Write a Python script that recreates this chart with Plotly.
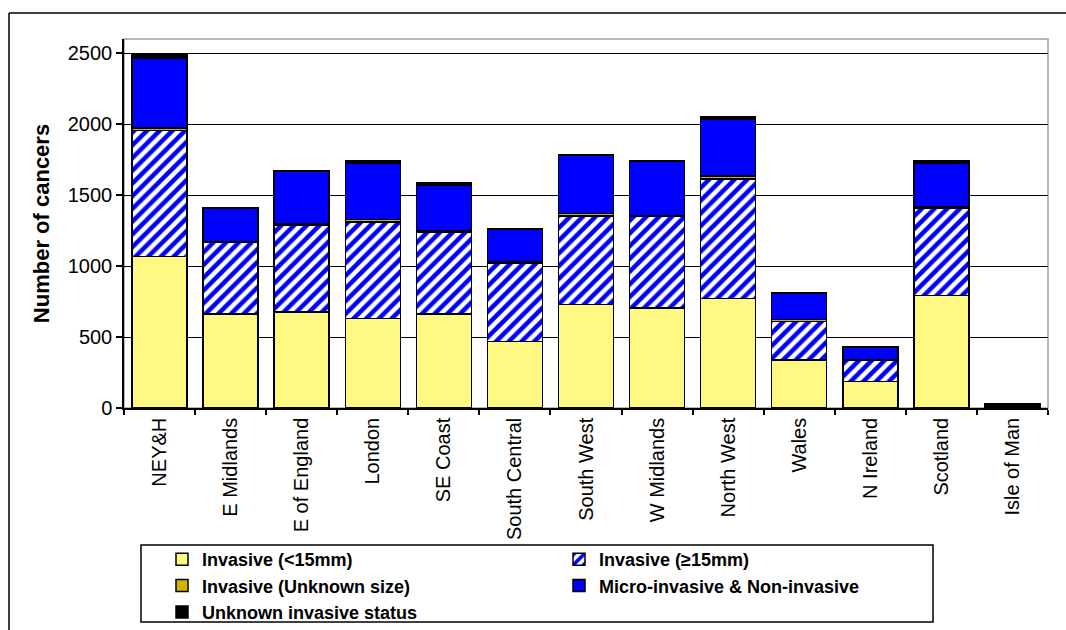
import plotly.graph_objects as go

# Screening regions along the x axis
regions = ["NEY&H", "E Midlands", "E of England", "London", "SE Coast",
           "South Central", "South West", "W Midlands", "North West",
           "Wales", "N Ireland", "Scotland", "Isle of Man"]

# Number of cancers in each category, per region
invasive_small = [1068, 664, 678, 629, 664, 469, 730, 704, 770, 340, 188, 793, 12]
invasive_large = [887, 506, 613, 681, 575, 550, 624, 645, 843, 270, 150, 615, 10]
invasive_unknown_size = [17, 4, 8, 18, 8, 10, 18, 8, 22, 12, 4, 12, 1]
micro_non_invasive = [493, 231, 367, 398, 321, 230, 410, 382, 403, 184, 88, 305, 8]
unknown_status = [21, 4, 5, 19, 21, 4, 4, 5, 16, 4, 4, 19, 2]

series_names = ["Invasive (<15mm)", "Invasive (\u226515mm)", "Invasive (Unknown size)",
                "Micro-invasive & Non-invasive", "Unknown invasive status"]

FONT = "Liberation Sans, Arial, sans-serif"
outline = dict(color="black", width=1.5)

fig = go.Figure()
fig.add_trace(go.Bar(x=regions, y=invasive_small, name=series_names[0],
                     marker=dict(color="#FFF984", line=outline)))
fig.add_trace(go.Bar(x=regions, y=invasive_large, name=series_names[1],
                     marker=dict(color="white", line=outline,
                                 pattern=dict(shape="/", fgcolor="#0000FF", bgcolor="white",
                                              size=9, solidity=0.5, fillmode="replace"))))
fig.add_trace(go.Bar(x=regions, y=invasive_unknown_size, name=series_names[2],
                     marker=dict(color="#D2B400", line=outline)))
fig.add_trace(go.Bar(x=regions, y=micro_non_invasive, name=series_names[3],
                     marker=dict(color="#0000FF", line=outline)))
fig.add_trace(go.Bar(x=regions, y=unknown_status, name=series_names[4],
                     marker=dict(color="black", line=outline)))

W, H = 1066, 630
L, R, T, B = 124, 18, 39, 222
pw, ph = W - L - R, H - T - B


def px_x(x):
    return (x - L) / pw


def px_y(y):
    return (H - B - y) / ph


frame_line = dict(color="black", width=1.5)
shapes = [
    # plot area frame
    dict(type="rect", xref="paper", yref="paper", x0=0, x1=1, y0=0, y1=1,
         line=dict(color="#A0A0A0", width=1.5), layer="below"),
    # outer chart frame: top and left edges (the rest runs past the page)
    dict(type="line", xref="paper", yref="paper",
         x0=px_x(9), x1=px_x(W + 10), y0=px_y(13), y1=px_y(13), line=frame_line),
    dict(type="line", xref="paper", yref="paper",
         x0=px_x(9), x1=px_x(9), y0=px_y(13), y1=px_y(H + 10), line=frame_line),
    # legend box
    dict(type="rect", xref="paper", yref="paper",
         x0=px_x(141), x1=px_x(933), y0=px_y(622), y1=px_y(545),
         line=frame_line),
]

fig.update_layout(
    width=W, height=H,
    margin=dict(l=L, r=R, t=T, b=B, pad=0, autoexpand=False),
    barmode="stack", bargap=0.226,
    paper_bgcolor="white", plot_bgcolor="white",
    font=dict(family=FONT, color="black"),
    shapes=shapes,
    showlegend=True,
    legend=dict(orientation="h", x=px_x(162), y=px_y(541), xanchor="left", yanchor="top",
                traceorder="normal", entrywidth=352, entrywidthmode="pixels",
                font=dict(family=FONT, size=18, color="black", weight="bold"),
                bgcolor="rgba(0,0,0,0)", borderwidth=0, itemclick=False),
    xaxis=dict(type="category", tickangle=-90, ticks="outside", ticklen=5,
               tickson="boundaries", tickcolor="black", tickwidth=1.5,
               showline=True, linecolor="black", linewidth=1.5,
               tickfont=dict(family=FONT, size=20, color="black"),
               showgrid=False, fixedrange=True),
    yaxis=dict(range=[0, 2600], tick0=0, dtick=500, ticks="outside", ticklen=6,
               tickcolor="black", tickwidth=1.5,
               showline=True, linecolor="black", linewidth=1.5,
               showgrid=True, gridcolor="black", gridwidth=1.2,
               zeroline=False,
               tickfont=dict(family=FONT, size=20, color="black"),
               title=dict(text="Number of cancers", standoff=12,
                          font=dict(family=FONT, size=22, color="black", weight="bold")),
               fixedrange=True),
)

# keep the page itself from growing scrollbars around the fixed-size figure
page_css = ("document.documentElement.style.overflow='hidden';"
            "document.body.style.margin='0';document.body.style.overflow='hidden';")

fig.write_html("out.html", config={"displayModeBar": False}, post_script=page_css)
